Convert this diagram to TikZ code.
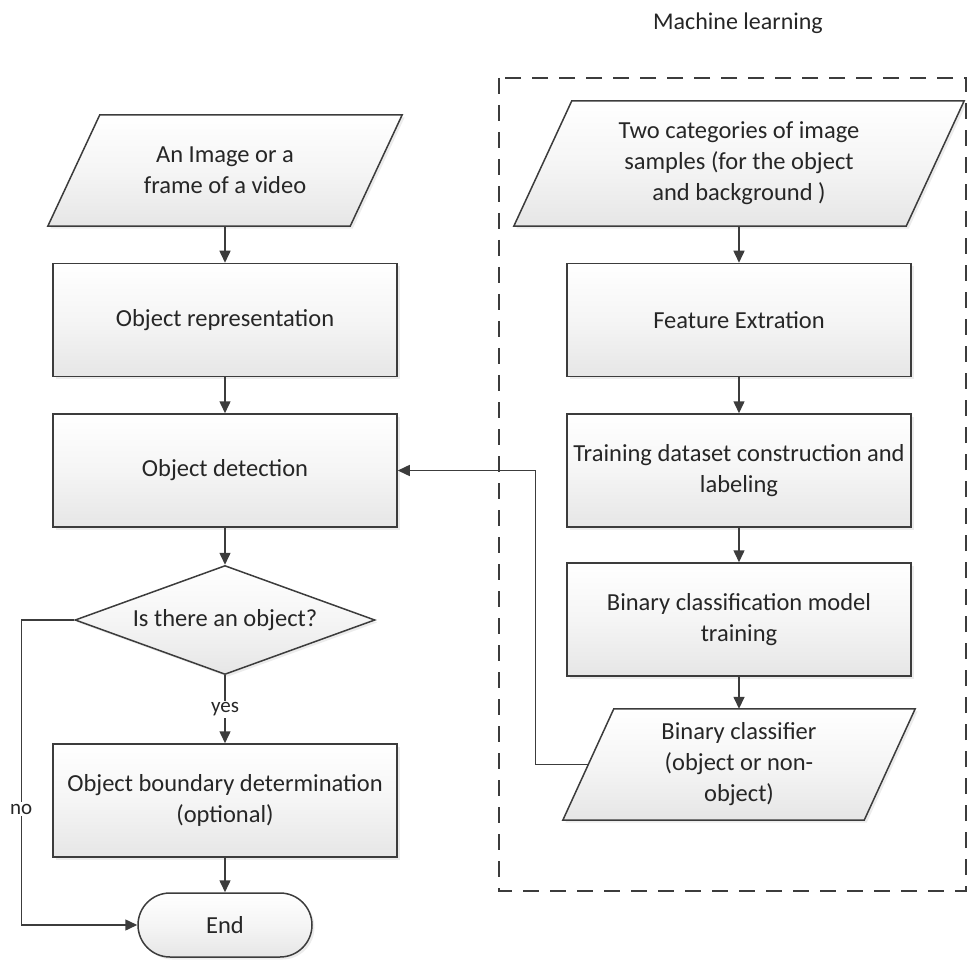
\documentclass[tikz,border=0pt]{standalone}
\usepackage{fontspec}
\setmainfont{Carlito}
\usetikzlibrary{arrows.meta,shapes.geometric,shapes.misc,calc,backgrounds,shadows}
\definecolor{edge}{HTML}{3C3C3C}
\definecolor{ink}{HTML}{262626}
\definecolor{shadeb}{HTML}{E6E6E6}
% parallelogram (input/output) outline drawn around a text node; #2 = horizontal slant
\newcommand\ioshape[2]{%
  \path[fillshade] ($(#1.north west)+(#2/2,0)$) -- ($(#1.north east)+(#2/2,0)$)
    -- ($(#1.south east)-(#2/2,0)$) -- ($(#1.south west)-(#2/2,0)$) -- cycle;}
\begin{document}
\begin{tikzpicture}[x=1pt,y=-1pt,
  every node/.style={text=ink, font=\fontsize{24.5}{31}\selectfont},
  fillshade/.style={top color=white, bottom color=shadeb, middle color=white!60!shadeb,
    draw=edge, line width=1.5pt,
    drop shadow={shadow xshift=2.5pt, shadow yshift=-2.5pt, opacity=0.15}},
  process/.style={fillshade, rectangle, minimum width=344pt, minimum height=113pt,
    align=center, inner sep=0pt},
  iotext/.style={rectangle, align=center, inner sep=0pt},
  decision/.style={fillshade, diamond, aspect=2.75, minimum width=300pt,
    minimum height=109pt, inner sep=0pt},
  terminal/.style={fillshade, rounded rectangle, minimum width=174pt,
    minimum height=64pt, inner sep=0pt},
  flow/.style={draw=edge, line width=1.5pt, -{Triangle[length=12pt,width=11pt]}},
  lbl/.style={font=\fontsize{21}{24}\selectfont, fill=white, inner sep=1.5pt},
  group/.style={draw=edge, line width=1.8pt, dash pattern=on 16pt off 11pt},
  title/.style={font=\fontsize{24}{28}\selectfont}
]
\useasboundingbox (0,0) rectangle (969,965);

% machine-learning group
\draw[group] (499,78) rectangle (966,891);
\node[title] (mltitle) at (738,23) {Machine learning};

% detection pipeline
\node[iotext, minimum width=302pt, minimum height=111pt] (src) at (225,170.5)
  {An Image or a\\frame of a video};
\node[process] (rep) at (225,320) {Object representation};
\node[process] (det) at (225,470.5) {Object detection};
\node[decision] (dec) at (225,620) {Is there an object?};
\node[process] (bnd) at (225,800.5) {Object boundary determination\\(optional)};
\node[terminal] (end) at (225,925) {End};

% training pipeline
\node[iotext, minimum width=392pt, minimum height=125pt] (smp) at (739,163.5)
  {Two categories of image\\samples (for the object\\and background )};
\node[process] (fea) at (739,320) {Feature Extration};
\node[process] (trn) at (739,470.5) {Training dataset construction and\\labeling};
\node[process] (bin) at (739,619.5) {Binary classification model\\training};
\node[iotext, minimum width=301pt, minimum height=111pt] (cls) at (739,764.5)
  {Binary classifier\\(object or non-\\object)};

\begin{scope}[on background layer]
  \ioshape{src}{52}
  \ioshape{smp}{58}
  \ioshape{cls}{51}
\end{scope}

% connectors
\draw[flow] (src.south) -- (rep.north);
\draw[flow] (rep.south) -- (det.north);
\draw[flow] (det.south) -- (dec.north);
\draw[flow] (dec.south) -- node[lbl] {yes} (bnd.north);
\draw[flow] (bnd.south) -- (end.north);
\draw[flow] (dec.west) -- ++(-53,0) |- node[lbl, pos=0.31] {no} (end.west);

\draw[flow] (smp.south) -- (fea.north);
\draw[flow] (fea.south) -- (trn.north);
\draw[flow] (trn.south) -- (bin.north);
\draw[flow] (bin.south) -- (cls.north);
\draw[flow] (cls.west) -- ++(-53,0) |- (det.east);
\end{tikzpicture}
\end{document}
